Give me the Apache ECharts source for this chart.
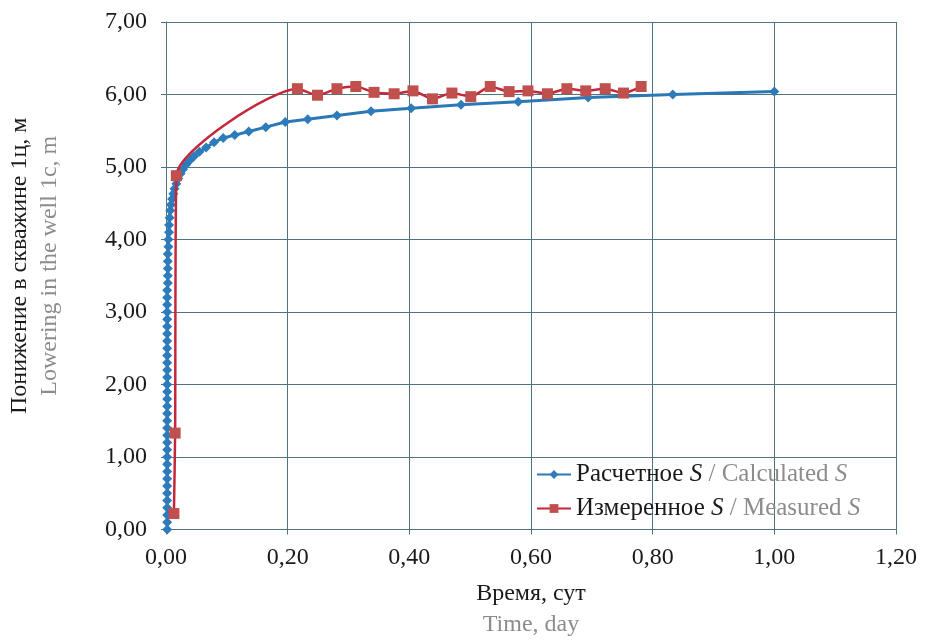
<!DOCTYPE html>
<html>
<head>
<meta charset="utf-8">
<script src="https://cdn.jsdelivr.net/npm/echarts@6/dist/echarts.min.js"></script>
<style>html,body{margin:0;padding:0;background:#fff}#c{width:927px;height:642px}</style>
</head>
<body>
<div id="c"></div>
<script>
// Calculated S (time, day ; drawdown, m)
const calcTime = [0.002,0.002,0.002,0.002,0.002,0.002,0.002,0.002,0.002,0.002,
  0.002,0.002,0.002,0.002,0.002,0.002,0.002,0.002,0.002,0.002,
  0.002,0.002,0.002,0.002,0.002,0.002,0.002,0.002,0.002,0.002,
  0.002,0.002,0.002,0.002,0.003,0.003,0.003,0.003,0.003,0.004,
  0.004,0.005,0.005,0.006,0.007,0.008,0.010,0.012,0.014,0.017,
  0.020,0.024,0.028,0.033,0.039,0.046,0.055,0.066,0.079,0.094,
  0.113,0.136,0.164,0.196,0.233,0.281,0.337,0.403,0.485,0.579,
  0.694,0.833,1.000];
const calcS = [0.00,0.10,0.20,0.30,0.40,0.50,0.60,0.70,0.80,0.90,
  1.00,1.10,1.20,1.30,1.40,1.50,1.60,1.70,1.80,1.90,
  2.00,2.10,2.20,2.30,2.40,2.50,2.60,2.70,2.80,2.90,
  3.00,3.10,3.20,3.30,3.40,3.50,3.60,3.70,3.80,3.90,
  4.00,4.10,4.20,4.30,4.40,4.48,4.56,4.63,4.70,4.77,
  4.84,4.91,4.97,5.03,5.09,5.15,5.21,5.27,5.34,5.40,
  5.44,5.49,5.55,5.62,5.66,5.71,5.77,5.81,5.86,5.90,
  5.96,6.00,6.04];
// Measured S
const measTime = [0.013,0.015,0.017,0.216,0.249,0.281,0.312,0.342,0.375,0.406,
  0.438,0.470,0.501,0.533,0.564,0.595,0.627,0.659,0.690,0.722,0.752,0.781];
const measS = [0.22,1.33,4.88,6.08,5.99,6.08,6.11,6.03,6.01,6.05,
  5.94,6.02,5.97,6.11,6.04,6.05,6.01,6.08,6.05,6.08,6.02,6.11];
const xTicks = {min:0, max:1.2, interval:0.2};
const yTicks = {min:0, max:7, interval:1};

const serif = "'Liberation Serif','DejaVu Serif',serif";
const gridColor = '#4f7480';
const black = '#1a1a1a';
const gray = '#8c8c8c';
const fmt = v => v.toFixed(2).replace('.', ',');

const chart = echarts.init(document.getElementById('c'));
chart.setOption({
  backgroundColor:'#fff',
  animation:false,
  grid:{left:166, right:31, top:22, bottom:109, containLabel:false},
  xAxis:{
    type:'value', min:xTicks.min, max:xTicks.max, interval:xTicks.interval,
    axisLine:{show:true, onZero:false, lineStyle:{color:gridColor, width:1}},
    axisTick:{show:true, length:5, lineStyle:{color:gridColor}},
    splitLine:{show:true, lineStyle:{color:gridColor, width:1}},
    axisLabel:{formatter:fmt, fontFamily:serif, fontSize:24, color:black, margin:16},
    name:'{a|Время, сут}\n{b|Time, day}',
    nameLocation:'middle', nameGap:49,
    nameTextStyle:{fontFamily:serif, rich:{
      a:{fontFamily:serif, fontSize:24, color:black, lineHeight:31},
      b:{fontFamily:serif, fontSize:24, color:gray, lineHeight:31}
    }}
  },
  yAxis:{
    type:'value', min:yTicks.min, max:yTicks.max, interval:yTicks.interval,
    axisLine:{show:true, lineStyle:{color:gridColor, width:1}},
    axisTick:{show:true, length:5, lineStyle:{color:gridColor}},
    splitLine:{show:true, lineStyle:{color:gridColor, width:1}},
    axisLabel:{formatter:fmt, fontFamily:serif, fontSize:24, color:black, margin:19},
    name:'{a|Понижение в скважине 1ц, м}\n{b|Lowering in the well 1c, m}',
    nameLocation:'middle', nameGap:101,
    nameTextStyle:{fontFamily:serif, padding:[0,0,0,20], rich:{
      a:{fontFamily:serif, fontSize:24, color:black, lineHeight:30},
      b:{fontFamily:serif, fontSize:24, color:gray, lineHeight:30}
    }}
  },
  legend:{
    left:531, top:457, orient:'vertical', itemWidth:34, itemHeight:11, itemGap:9,
    data:['calc','meas'],
    formatter: n => n === 'calc'
      ? '{r|Расчетное }{ri|S}{e| / Calculated }{ei|S}'
      : '{r|Измеренное }{ri|S}{e| / Measured }{ei|S}',
    textStyle:{fontFamily:serif, fontSize:25, rich:{
      r:{fontFamily:serif, fontSize:25, color:black},
      ri:{fontFamily:serif, fontSize:25, color:black, fontStyle:'italic'},
      e:{fontFamily:serif, fontSize:25, color:gray},
      ei:{fontFamily:serif, fontSize:25, color:gray, fontStyle:'italic'}
    }}
  },
  series:[
    {
      name:'calc', type:'line', data:calcTime.map((t,i)=>[t, calcS[i]]),
      symbol:'diamond', symbolSize:10, showAllSymbol:true,
      lineStyle:{color:'#2a78b6', width:3},
      itemStyle:{color:'#2e7bbb'}, z:2
    },
    {
      name:'meas', type:'line', data:measTime.map((t,i)=>[t, measS[i]]),
      symbol:'rect', symbolSize:11, showAllSymbol:true, smooth:0.2,
      lineStyle:{color:'#c3283a', width:2.5},
      itemStyle:{color:'#c0504d'}, z:3
    }
  ]
});
</script>
</body>
</html>
